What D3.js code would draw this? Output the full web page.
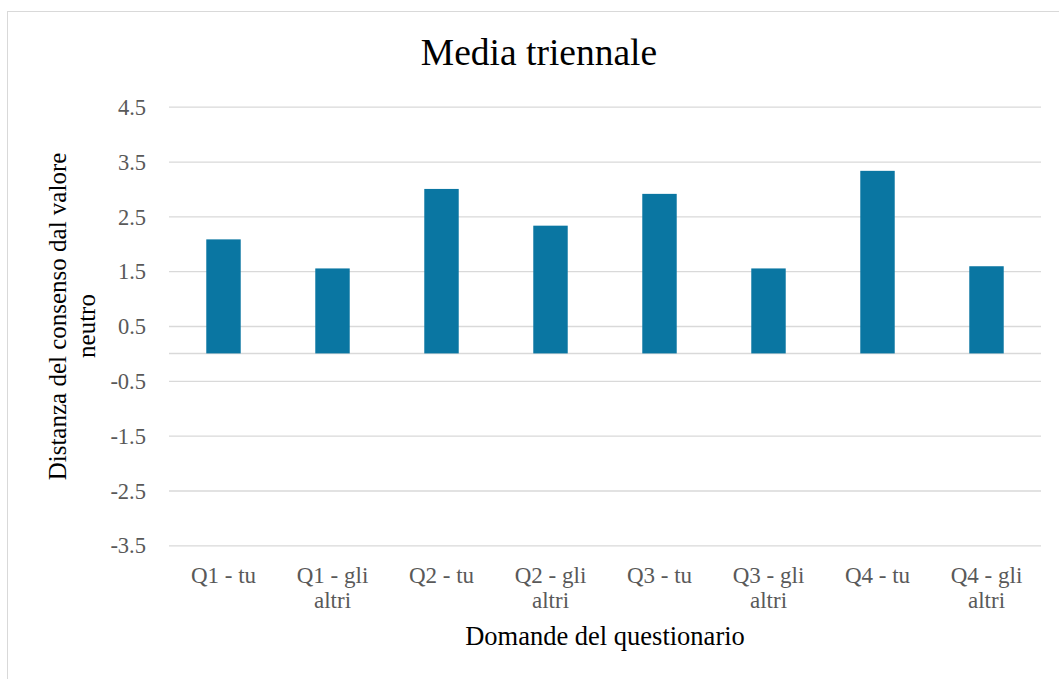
<!DOCTYPE html>
<html>
<head>
<meta charset="utf-8">
<script src="https://cdn.jsdelivr.net/npm/d3@7"></script>
<style>
  html, body { margin: 0; padding: 0; background: #fff; }
  svg { display: block; }
  text { font-family: "Liberation Serif", "Times New Roman", serif; }
</style>
</head>
<body>
<svg id="chart" width="1059" height="679"></svg>
<script>
const categories = [
  ["Q1 - tu"],
  ["Q1 - gli", "altri"],
  ["Q2 - tu"],
  ["Q2 - gli", "altri"],
  ["Q3 - tu"],
  ["Q3 - gli", "altri"],
  ["Q4 - tu"],
  ["Q4 - gli", "altri"]
];
const values = [2.08, 1.55, 3.00, 2.33, 2.91, 1.55, 3.33, 1.59];
const yTicks = [4.5, 3.5, 2.5, 1.5, 0.5, -0.5, -1.5, -2.5, -3.5];
const titleText = "Media triennale";
const xTitle = "Domande del questionario";
const yTitleLines = ["Distanza del consenso dal valore", "neutro"];

(function draw() {
const svg = d3.select("#chart");
const W = 1059, H = 679;
const pL = 169, pR = 1041, pT = 106.7, pB = 545.3;

// outer border
svg.append("rect")
  .attr("x", 7.5).attr("y", 11.5)
  .attr("width", W + 10).attr("height", H + 10)
  .attr("fill", "#fff").attr("stroke", "#d9d9d9").attr("stroke-width", 1);

const keys = categories.map(c => c.join(" "));
const x = d3.scaleBand().domain(keys).range([pL, pR]).paddingInner(0.684).paddingOuter(0.342);
const y = d3.scaleLinear().domain([-3.5, 4.5]).range([pB, pT]);

// gridlines
const grid = svg.append("g")
  .attr("transform", `translate(${pL},0)`)
  .call(d3.axisLeft(y).tickValues(yTicks).tickSize(-(pR - pL)).tickFormat(""));
grid.select(".domain").remove();
grid.selectAll("line").attr("stroke", "#d9d9d9").attr("stroke-width", 1.3);

// zero line
svg.append("line")
  .attr("x1", pL).attr("x2", pR)
  .attr("y1", y(0)).attr("y2", y(0))
  .attr("stroke", "#d9d9d9").attr("stroke-width", 1.5);

// y tick labels
const fmt = d3.format(".1f");
const yAxis = svg.append("g")
  .attr("transform", `translate(${pL},0)`)
  .call(d3.axisLeft(y).tickValues(yTicks).tickSize(0).tickPadding(23)
    .tickFormat(d => fmt(d).replace("\u2212", "-")));
yAxis.select(".domain").remove();
yAxis.selectAll("text")
  .attr("fill", "#595959")
  .style("font-family", '"Liberation Serif", serif')
  .style("font-size", "22.5px")
  .attr("dy", "0.34em");

// bars
svg.append("g").selectAll("rect")
  .data(values)
  .join("rect")
  .attr("x", (d, i) => x(keys[i]))
  .attr("width", x.bandwidth())
  .attr("y", d => y(Math.max(0, d)))
  .attr("height", d => Math.abs(y(d) - y(0)))
  .attr("fill", "#0a76a2");

// x labels
const xAxis = svg.append("g")
  .attr("transform", `translate(0,${pB})`)
  .call(d3.axisBottom(x).tickSize(0).tickFormat(""));
xAxis.select(".domain").remove();
xAxis.selectAll(".tick").each(function(d, i) {
  const t = d3.select(this).append("text")
    .attr("text-anchor", "middle")
    .attr("fill", "#595959")
    .style("font-size", "23px")
    .attr("y", 38);
  categories[i].forEach((line, j) => {
    t.append("tspan").attr("x", 0).attr("dy", j === 0 ? 0 : 25).text(line);
  });
});

// title
svg.append("text")
  .attr("x", 539).attr("y", 65)
  .attr("text-anchor", "middle")
  .attr("fill", "#000")
  .style("font-size", "37.5px")
  .text(titleText);

// x axis title
svg.append("text")
  .attr("x", (pL + pR) / 2).attr("y", 645)
  .attr("text-anchor", "middle")
  .attr("fill", "#000")
  .style("font-size", "26.5px")
  .text(xTitle);

// y axis title
const yT = svg.append("text")
  .attr("transform", `translate(0,316.5) rotate(-90)`)
  .attr("text-anchor", "middle")
  .attr("fill", "#000")
  .style("font-size", "25px");
yT.append("tspan").attr("x", 0).attr("y", 66).text(yTitleLines[0]);
yT.append("tspan").attr("x", -9.5).attr("y", 95).text(yTitleLines[1]);
})();
</script>
</body>
</html>
